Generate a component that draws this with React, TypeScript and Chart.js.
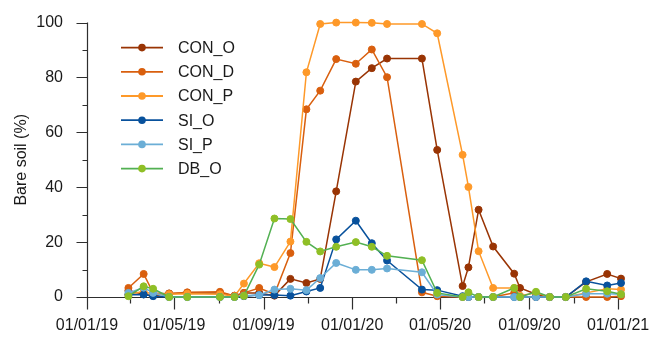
import React, { useEffect, useRef } from 'react';
import { Chart, registerables } from 'chart.js';

Chart.register(...registerables);

const dates = [
  '2019-02-27', '2019-03-20', '2019-04-02', '2019-04-24', '2019-05-19', '2019-07-03',
  '2019-07-23', '2019-08-05', '2019-08-26', '2019-09-16', '2019-10-08', '2019-10-30',
  '2019-11-18', '2019-12-10', '2020-01-06', '2020-01-28', '2020-02-18', '2020-04-06',
  '2020-04-27', '2020-06-01', '2020-06-09', '2020-06-23', '2020-07-13', '2020-08-11',
  '2020-08-19', '2020-09-10', '2020-09-29', '2020-10-21', '2020-11-18', '2020-12-17',
  '2021-01-05',
];

const conO = [2.3, 1.0, 0.5, 1.3, 1.5, 1.5, 0.5, 1.5, 1.5, 0.5, 6.6, 5.1, 6.6, 38.5, 78.5, 83.4, 86.9, 86.9, 53.6, 4.0, 10.8, 31.8, 18.4, 8.5, 3.3, 1.0, 0, 0, 5.5, 8.4, 6.7];
const conD = [3.3, 8.4, 1.5, 1.2, 1.7, 1.9, 0.4, 1.5, 3.3, 1.0, 16.0, 68.4, 75.2, 86.7, 85.0, 90.2, 80.1, 1.7, 0.3, 0, 0, 0, 0, 1.5, 0, 0, 0, 0, 0, 0, 0.3];
const conP = [1.0, 2.0, 1.0, 1.0, 1.2, 1.0, 0.3, 4.9, 12.3, 10.9, 20.2, 81.9, 99.5, 100, 100, 99.9, 99.5, 99.5, 96.1, 51.8, 40.1, 16.7, 3.3, 3.3, 0.5, 1.5, 0, 0, 1.5, 3.0, 2.7];
const siO = [0.8, 0.9, 0.3, 0, 0, 0, 0, 0.3, 0.7, 0.7, 0.5, 2.0, 3.3, 21.0, 27.8, 19.6, 13.3, 2.7, 2.5, 0.3, 0, 0, 0, 0, 0, 0, 0, 0, 5.7, 4.2, 5.1];
const siP = [1.5, 3.4, 1.5, 0, 0, 0, 0, 0.5, 0.7, 2.7, 3.0, 2.5, 6.9, 12.4, 9.9, 9.9, 10.4, 9.0, 0.9, 0, 0, 0, 0, 0, 0, 0, 0, 0, 1.2, 1.2, 1.0];
const dbO = [0.3, 3.9, 3.0, 0, 0, 0, 0, 0.4, 11.8, 28.6, 28.4, 20.1, 16.6, 18.3, 20.0, 18.3, 15.0, 13.4, 1.5, 0, 1.7, 0, 0, 3.3, 0, 1.9, 0, 0, 3.0, 2.1, 1.0];

const seriesNames = ['CON_O', 'CON_D', 'CON_P', 'SI_O', 'SI_P', 'DB_O'];
const seriesValues = [conO, conD, conP, siO, siP, dbO];
const lineColors = ['#993404', '#d95f0e', '#fe9929', '#08519c', '#6baed6', '#52b052'];
const markerColors = ['#993404', '#d95f0e', '#fe9929', '#08519c', '#6baed6', '#8fbf26'];

const xTickDates = [
  '2019-01-01', '2019-03-01', '2019-05-01', '2019-07-01', '2019-09-01', '2019-11-01',
  '2020-01-01', '2020-03-01', '2020-05-01', '2020-07-01', '2020-09-01', '2020-11-01',
  '2021-01-01',
];
const xTickLabels = ['01/01/19', '', '01/05/19', '', '01/09/19', '', '01/01/20', '', '01/05/20', '', '01/09/20', '', '01/01/21'];
const yTickValues = [0, 10, 20, 30, 40, 50, 60, 70, 80, 90, 100];
const yTickLabels = ['0', '', '20', '', '40', '', '60', '', '80', '', '100'];

const xMin = '2019-01-01';
const xMax = '2021-01-05';

const axisColor = '#2e2e2e';
const textColor = '#1a1a1a';
const fontFamily = "'Liberation Sans', Arial, sans-serif";

const axesPlugin = {
  id: 'customAxes',
  beforeDatasetsDraw(chart: any) {
    const { ctx, chartArea, scales } = chart;
    const { left, right, top, bottom } = chartArea;
    const x = scales.x;
    const y = scales.y;
    ctx.save();
    ctx.strokeStyle = axisColor;
    ctx.lineWidth = 1.2;
    const L = Math.round(left) + 0.5;
    const B = Math.round(bottom) + 0.5;
    ctx.beginPath();
    ctx.moveTo(L, top);
    ctx.lineTo(L, B);
    ctx.moveTo(L, B);
    ctx.lineTo(right, B);
    yTickValues.forEach((v, i) => {
      const py = Math.round(y.getPixelForValue(v)) + 0.5;
      const len = yTickLabels[i] ? 11 : 5;
      ctx.moveTo(L - len, py);
      ctx.lineTo(L, py);
    });
    xTickDates.forEach((d, i) => {
      const px = Math.round(x.getPixelForValue(Date.parse(d))) + 0.5;
      const len = xTickLabels[i] ? 12 : 6;
      ctx.moveTo(px, B);
      ctx.lineTo(px, B + len);
    });
    ctx.stroke();
    ctx.restore();
  },
};

const legendPlugin = {
  id: 'insideLegend',
  afterDatasetsDraw(chart: any) {
    const { ctx, chartArea } = chart;
    const { left, top } = chartArea;
    ctx.save();
    seriesNames.forEach((name, i) => {
      const rowY = top + 25 + i * 24.2;
      ctx.strokeStyle = lineColors[i];
      ctx.lineWidth = 1.8;
      ctx.beginPath();
      ctx.moveTo(left + 34, rowY);
      ctx.lineTo(left + 76, rowY);
      ctx.stroke();
      ctx.fillStyle = markerColors[i];
      ctx.beginPath();
      ctx.arc(left + 55, rowY, 3.8, 0, Math.PI * 2);
      ctx.fill();
      ctx.fillStyle = textColor;
      ctx.font = `16px ${fontFamily}`;
      ctx.textAlign = 'left';
      ctx.textBaseline = 'middle';
      ctx.fillText(name, left + 91, rowY + 1);
    });
    ctx.restore();
  },
};

export default function App() {
  const canvasRef = useRef<HTMLCanvasElement | null>(null);

  useEffect(() => {
    if (!canvasRef.current) return;
    Chart.defaults.font.family = fontFamily;
    const datasets = seriesNames.map((name, i) => ({
      label: name,
      data: dates.map((d, j) => ({ x: Date.parse(d), y: seriesValues[i][j] })),
      borderColor: lineColors[i],
      backgroundColor: markerColors[i],
      pointBackgroundColor: markerColors[i],
      pointBorderColor: markerColors[i],
      pointBorderWidth: 1,
      pointRadius: 3.5,
      borderWidth: 1.5,
      tension: 0,
      spanGaps: true,
      clip: false,
      order: seriesNames.length - 1 - i,
    }));
    const chart = new Chart(canvasRef.current, {
      type: 'line',
      data: { datasets },
      plugins: [axesPlugin, legendPlugin],
      options: {
        animation: false,
        responsive: false,
        maintainAspectRatio: false,
        layout: { padding: { top: 21, right: 41, left: 0, bottom: 0 } },
        plugins: { legend: { display: false }, tooltip: { enabled: false } },
        scales: {
          x: {
            type: 'linear',
            min: Date.parse(xMin),
            max: Date.parse(xMax),
            afterBuildTicks: (s: any) => {
              s.ticks = xTickDates.map((d) => ({ value: Date.parse(d) }));
            },
            grid: { display: false, drawTicks: true, tickLength: 12 },
            border: { display: false },
            ticks: {
              autoSkip: false,
              maxRotation: 0,
              minRotation: 0,
              padding: 7,
              color: textColor,
              font: { size: 16, family: fontFamily },
              callback: (_v: any, i: number) => xTickLabels[i],
            },
            afterFit: (s: any) => {
              s.height = 42;
            },
          },
          y: {
            type: 'linear',
            min: 0,
            max: 100,
            afterBuildTicks: (s: any) => {
              s.ticks = yTickValues.map((v) => ({ value: v }));
            },
            grid: { display: false, drawTicks: true, tickLength: 11 },
            border: { display: false },
            ticks: {
              padding: 13,
              color: textColor,
              font: { size: 16, family: fontFamily },
              callback: (_v: any, i: number) => yTickLabels[i],
            },
            title: {
              display: true,
              text: 'Bare soil (%)',
              color: textColor,
              font: { size: 16, family: fontFamily },
              padding: { top: 12, bottom: 0 },
            },
            afterFit: (s: any) => {
              s.width = 87;
            },
          },
        },
      },
    });
    return () => chart.destroy();
  }, []);

  return (
    <div style={{ position: 'absolute', left: 0, top: 0, width: 662, height: 339 }}>
      <canvas ref={canvasRef} width={662} height={339} style={{ display: 'block' }} />
    </div>
  );
}
